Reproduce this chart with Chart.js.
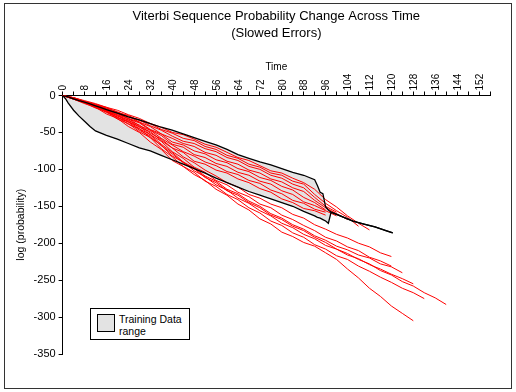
<!DOCTYPE html>
<html>
<head>
<meta charset="utf-8">
<script src="https://cdn.jsdelivr.net/npm/chart.js@4.4.1/dist/chart.umd.min.js"></script>
<style>
  body { margin: 0; background: #fff; font-family: "Liberation Sans", Arial, sans-serif; }
  #wrap { position: relative; width: 516px; height: 392px; }
  #chart { position: absolute; left: 0; top: 0; }
  #frame { position: absolute; left: 4px; top: 3px; width: 508px; height: 386px; box-sizing: border-box; border: 1px solid #333; pointer-events: none; }
  #legend { position: absolute; left: 90px; top: 308px; width: 100px; height: 32px; box-sizing: border-box; border: 1px solid #000; background: #fff; font-size: 10.5px; color: #000; }
  #legend .sw { position: absolute; left: 6px; top: 5px; width: 18px; height: 18px; box-sizing: border-box; border: 1px solid #000; background: #e3e3e3; }
  #legend .txt { position: absolute; left: 28px; top: 4px; line-height: 12px; }
</style>
</head>
<body>
<div id="wrap">
  <canvas id="chart" width="516" height="392"></canvas>
  <div id="frame"></div>
  <div id="legend"><div class="sw"></div><div class="txt">Training Data<br>range</div></div>
</div>
<script>
// time steps for the red sequences (every 4 steps)
const times = [0,4,8,12,16,20,24,28,32,36,40,44,48,52,56,60,64,68,72,76,80,84,88,92,96,100,104,108,112,116,120,124,128,132,136,140];

// training data range (max / min over training sequences)
const trainX   = [0,1,2,4,6,8,10,12,14,16,20,24,28,32,36,40,44,48,52,56,60,64,68,72,76,80,84,88,92,93,94,95,96,97,98,102,106,110,114,118,120.5];
const trainMax = [0,-1,-2,-4.5,-7,-9,-11.5,-14,-16.5,-19,-24,-29,-33,-38,-43,-47,-52,-57,-62,-67,-73,-80,-85,-90,-94,-99,-104,-108,-114,-122,-131,-133,-151,-155,-158,-164,-170,-174,-178,-183,-186];
const trainMin = [0,-4,-10,-20,-28,-35,-42,-48,-51,-54,-59,-65,-71,-75,-81,-87,-93,-99,-105,-112,-118,-124,-130,-135,-140,-145,-150,-157,-163,-165,-166,-168,-170,-173,-158,-164,-170,-174,-178,-183,-186];

// test sequences
const seqA1 = [0,-3,-7,-11,-16,-20,-26,-31,-38,-43,-50,-53,-59,-66,-70,-77,-84,-88,-95,-102,-105,-112,-118,-127,-141,-151,-163,-173,-182];
const seqA2 = [0,-3,-8,-12,-16,-23,-27,-34,-38,-46,-51,-58,-61,-69,-73,-81,-85,-93,-97,-105,-108,-116,-120,-134,-146,-156,-165,-177];
const seqA3 = [0,-4,-8,-13,-17,-22,-29,-33,-41,-47,-55,-62,-65,-72,-76,-84,-88,-96,-100,-108,-112,-120,-125,-138,-150,-158];
const seqA4 = [0,-3,-8,-12,-18,-24,-28,-36,-42,-52,-58,-65,-69,-77,-81,-89,-93,-101,-105,-113,-117,-125,-130,-142,-152,-160,-168];
const seqA5 = [0,-4,-9,-14,-18,-24,-31,-36,-46,-52,-63,-67,-75,-79,-87,-91,-99,-103,-111,-115,-123,-128,-138,-145,-155];
const seqA6 = [0,-3,-8,-13,-20,-24,-32,-37,-47,-54,-66,-70,-80,-84,-92,-96,-104,-108,-116,-120,-129,-134,-144,-149,-156,-163];
const seqA7 = [0,-4,-9,-15,-19,-26,-31,-41,-47,-58,-67,-76,-82,-90,-95,-103,-107,-115,-119,-128,-133,-142,-146,-154,-158];
const seqA8 = [0,-4,-10,-14,-21,-26,-34,-40,-51,-59,-71,-77,-89,-93,-101,-105,-113,-118,-126,-131,-140,-145,-153,-156,-162];
const seqB1 = [0,-4,-9,-15,-20,-28,-33,-43,-49,-61,-71,-83,-91,-101,-109,-118,-124,-134,-139,-147,-152,-161,-166,-175,-181,-188,-193,-200,-205,-213,-218];
const seqB2 = [0,-4,-10,-14,-22,-27,-36,-42,-53,-62,-76,-85,-97,-104,-115,-121,-131,-137,-147,-152,-162,-168,-176,-183,-192,-197,-205,-210,-219,-224,-231];
const seqB3 = [0,-5,-9,-16,-21,-30,-35,-45,-53,-66,-77,-90,-98,-109,-116,-127,-133,-143,-150,-160,-166,-175,-181,-190,-196,-204,-209,-216,-220,-228,-232,-240];
const seqB4 = [0,-4,-10,-15,-23,-29,-39,-45,-57,-67,-82,-90,-102,-110,-121,-128,-139,-146,-156,-163,-173,-179,-188,-194,-203,-208,-216,-221,-229,-235,-242,-248,-255];
const seqB5 = [0,-5,-10,-17,-22,-32,-38,-49,-57,-72,-83,-96,-104,-116,-123,-134,-141,-152,-159,-170,-176,-186,-192,-202,-208,-217,-222,-231,-238,-246,-253,-261,-267,-275];
const seqB6 = [0,-4,-9,-16,-21,-30,-36,-47,-55,-68,-79,-91,-99,-111,-118,-129,-135,-145,-152,-162,-168,-177,-183,-192,-199,-208,-214,-222,-228,-237,-243,-252,-258,-267,-274,-283];
const seqB7 = [0,-5,-11,-16,-25,-31,-42,-50,-63,-73,-88,-96,-107,-115,-127,-135,-147,-155,-167,-174,-185,-191,-199,-204,-213,-222,-235,-247,-261,-272,-285,-295,-305];

const testSeqs = [seqA1, seqA2, seqA3, seqA4, seqA5, seqA6, seqA7, seqA8, seqB1, seqB2, seqB3, seqB4, seqB5, seqB6, seqB7];

const toPoints = (xs, ys) => ys.map((y, i) => ({x: xs[i], y: y}));

const datasets = [
    {
        label: 'Training Data range',
        data: toPoints(trainX, trainMax),
        borderColor: '#000',
        borderWidth: 1.3,
        backgroundColor: '#e3e3e3',
        fill: '+1'
    },
    {
        label: 'min',
        data: toPoints(trainX, trainMin),
        borderColor: '#000',
        borderWidth: 1.3,
        fill: false
    }
];

testSeqs.forEach((seq, i) => {
    datasets.push({
        label: 'seq' + i,
        data: toPoints(times, seq),
        borderColor: '#ff0000',
        borderWidth: 1,
        fill: false
    });
});

const family = '"Liberation Sans", Arial, sans-serif';

new Chart(document.getElementById('chart'), {
    type: 'line',
    data: {datasets: datasets},
    options: {
        responsive: false,
        animation: false,
        layout: {padding: {left: 15, right: 26, top: 5, bottom: 38}},
        elements: {point: {radius: 0}, line: {tension: 0}},
        plugins: {
            legend: {display: false},
            tooltip: {enabled: false},
            filler: {drawTime: 'beforeDatasetsDraw'},
            title: {
                display: true,
                fullSize: false,
                text: ['Viterbi Sequence Probability Change Across Time', '(Slowed Errors)'],
                color: '#000',
                font: {family: family, size: 13, weight: 'normal', lineHeight: 1.3},
                padding: {top: 3, bottom: 19}
            }
        },
        scales: {
            x: {
                type: 'linear',
                position: 'top',
                min: 0,
                max: 156,
                title: {display: true, text: 'Time', color: '#000', font: {family: family, size: 10}, padding: {top: 0, bottom: 0}},
                ticks: {
                    stepSize: 4,
                    autoSkip: false,
                    maxRotation: 90,
                    minRotation: 90,
                    labelOffset: 13,
                    color: '#000',
                    font: {family: family, size: 10},
                    padding: 1,
                    callback: v => v % 8 === 0 ? v : ''
                },
                grid: {drawOnChartArea: false, drawTicks: true, tickLength: 4, color: '#000'},
                border: {color: '#000', width: 1}
            },
            y: {
                min: -350,
                max: 0,
                title: {display: true, text: 'log (probability)', color: '#000', font: {family: family, size: 10.5}, padding: {top: 0, bottom: 3}},
                ticks: {stepSize: 50, color: '#000', font: {family: family, size: 11}, padding: 3},
                grid: {drawOnChartArea: false, drawTicks: true, tickLength: 4, color: '#000'},
                border: {color: '#000', width: 1}
            }
        }
    }
});
</script>
</body>
</html>
